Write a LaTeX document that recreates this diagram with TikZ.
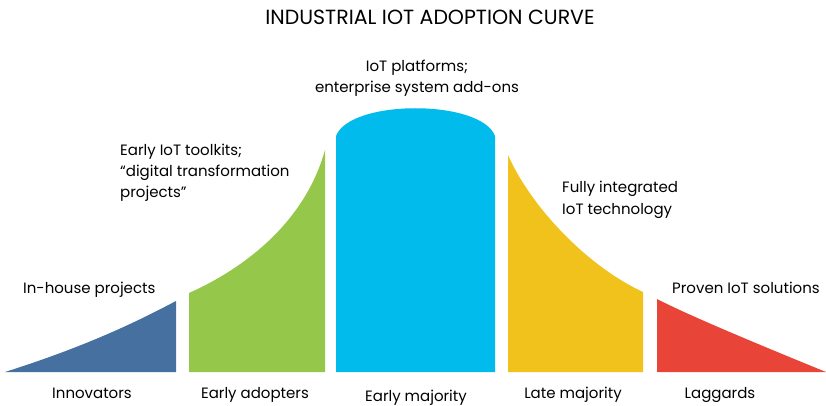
\documentclass[tikz,border=0pt]{standalone}
\usepackage{fontspec}
\setmainfont{Poppins}
\definecolor{innov}{RGB}{69,112,160}
\definecolor{early}{RGB}{149,199,74}
\definecolor{major}{RGB}{0,187,236}
\definecolor{late}{RGB}{241,194,27}
\definecolor{lagg}{RGB}{232,68,56}

\begin{document}
\begin{tikzpicture}[
		x=1pt, y=-1pt,
		txt/.style={font=\fontsize{15}{21}\selectfont, inner sep=0pt, align=left},
		groupname/.style={txt, anchor=base}
	]
		\useasboundingbox (0,0) rectangle (826,406);
		\fill[innov] (5,372) .. controls (90,345) and (140,320) .. (176,301)
			-- (176,372) -- cycle;
		\fill[early] (189,372) -- (189,293) .. controls (245,268) and (305,222) .. (325,150)
			-- (325,372) -- cycle;
		\fill[major] (336,372) -- (336,136) .. controls (350,99) and (481,99) .. (495,136)
			-- (495,372) -- cycle;
		\fill[late] (508,372) -- (508,155) .. controls (530,205) and (585,265) .. (643,292)
			-- (643,372) -- cycle;
		\fill[lagg] (657,372) -- (657,299) .. controls (690,316) and (760,345) .. (826,372)
			-- cycle;

		\node[txt, anchor=base] (title) at (430,25)
			{\fontsize{20.5}{23}\selectfont INDUSTRIAL IOT ADOPTION CURVE};

		% multi-line nodes sit on the baseline of their last line
		\node[txt, anchor=base, align=center] (platforms) at (417,93)
			{IoT platforms;\\enterprise system add-ons};
		\node[txt, anchor=base west] (toolkits) at (120,197)
			{Early IoT toolkits;\\“digital transformation\\projects”};
		\node[txt, anchor=base west] (integrated) at (562,214)
			{Fully integrated\\IoT technology};
		\node[txt, anchor=base west] (inhouse) at (23,293) {In-house projects};
		\node[txt, anchor=base west] (proven) at (672,293) {Proven IoT solutions};

		\node[groupname] (innovators) at (92,398) {Innovators};
		\node[groupname] (adopters) at (255,398) {Early adopters};
		\node[groupname] (majority) at (416,401) {Early majority};
		\node[groupname] (latemaj) at (573,398) {Late majority};
		\node[groupname] (laggards) at (720,398) {Laggards};
	\end{tikzpicture}
\end{document}
